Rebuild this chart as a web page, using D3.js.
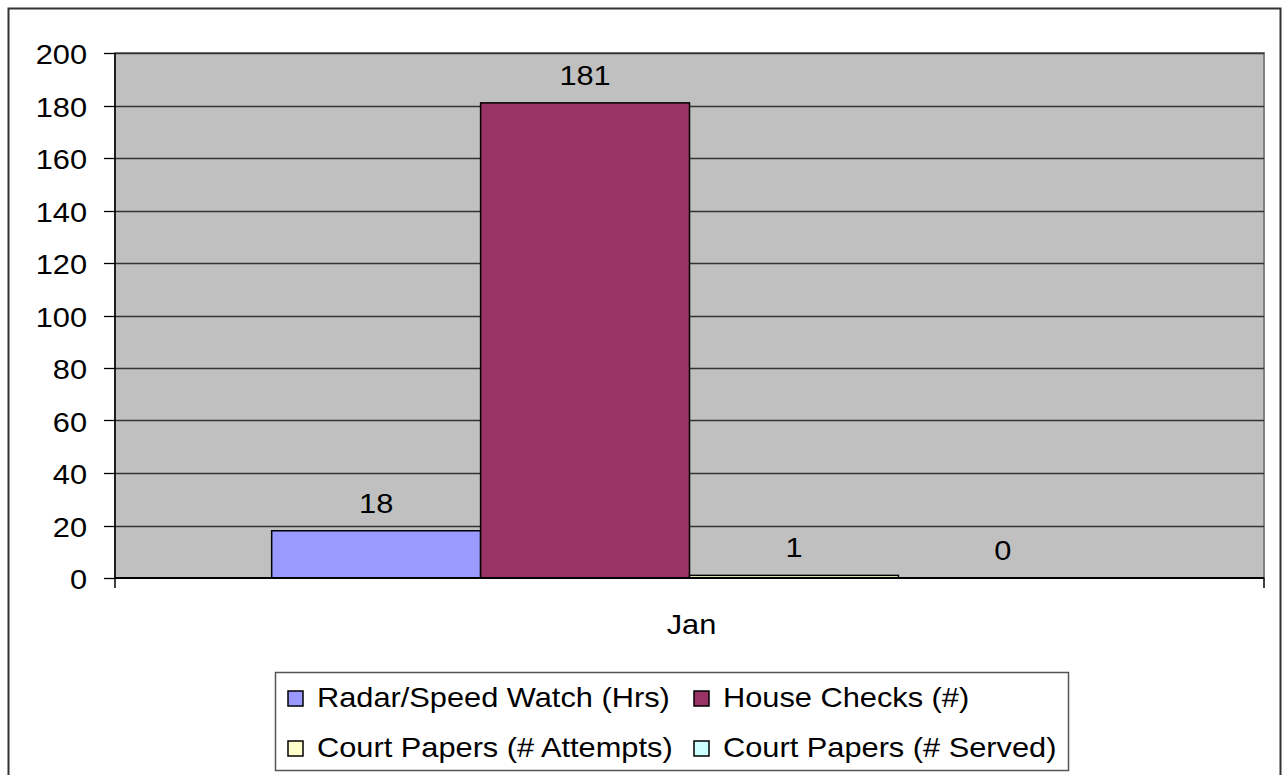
<!DOCTYPE html>
<html>
<head>
<meta charset="utf-8">
<script src="https://cdn.jsdelivr.net/npm/d3@7"></script>
<style>
  body { margin: 0; background: #fff; }
  svg text { font-family: "Liberation Sans", Arial, sans-serif; fill: #000; }
</style>
</head>
<body>
<div id="chart"></div>
<script>
// Chart data
var categories = ['Jan'];
var seriesNames = ['Radar/Speed Watch (Hrs)', 'House Checks (#)', 'Court Papers (# Attempts)', 'Court Papers (# Served)'];
var seriesColors = ['#9999FF', '#993366', '#FFFFCC', '#CCFFFF'];
var seriesValues = [[18], [181], [1], [0]];
var yTicks = [0, 20, 40, 60, 80, 100, 120, 140, 160, 180, 200];

var W = 1283, H = 775;
var plot = { left: 115, top: 53, right: 1264, bottom: 578 };
var fontSize = 27, stretch = 1.14;

var svg = d3.select('#chart').append('svg')
    .attr('width', W).attr('height', H);

// Outer chart border
svg.append('rect')
    .attr('x', 8.5).attr('y', 8.5)
    .attr('width', 1272).attr('height', 780)
    .attr('fill', '#fff').attr('stroke', '#333').attr('stroke-width', 2);

// Helper that draws horizontally stretched text like the original
function label(g, x, y, txt, anchor) {
  return g.append('text')
      .attr('transform', 'translate(' + x + ',' + y + ') scale(' + stretch + ',1)')
      .attr('text-anchor', anchor || 'middle')
      .style('font-size', fontSize + 'px')
      .text(txt);
}

// Scales
var y = d3.scaleLinear().domain([0, 200]).range([plot.bottom, plot.top]);
var x0 = d3.scaleBand().domain(categories).range([plot.left, plot.right]).paddingInner(0).paddingOuter(0);
var x1 = d3.scaleBand().domain(d3.range(seriesNames.length))
    .range([0, x0.bandwidth()]).paddingOuter(0.75).paddingInner(0);

// Plot background
svg.append('rect')
    .attr('x', plot.left).attr('y', plot.top)
    .attr('width', plot.right - plot.left).attr('height', plot.bottom - plot.top)
    .attr('fill', '#C0C0C0').attr('stroke', '#808080').attr('stroke-width', 2);

// Gridlines
svg.append('g').selectAll('line')
  .data(yTicks.filter(function(d) { return d > 0; }))
  .enter().append('line')
    .attr('x1', plot.left).attr('x2', plot.right)
    .attr('y1', function(d) { return Math.round(y(d)) + 0.5; })
    .attr('y2', function(d) { return Math.round(y(d)) + 0.5; })
    .attr('stroke', '#333').attr('stroke-width', 1.3);

// Bars
var bars = svg.append('g');
seriesNames.forEach(function(name, i) {
  categories.forEach(function(c, j) {
    var v = seriesValues[i][j];
    var bx = x0(c) + x1(i);
    if (v > 0) {
      bars.append('rect')
          .attr('x', bx).attr('y', y(v))
          .attr('width', x1.bandwidth()).attr('height', y(0) - y(v))
          .attr('fill', seriesColors[i])
          .attr('stroke', '#000').attr('stroke-width', 1.5);
    }
    label(bars, bx + x1.bandwidth() / 2, y(v) - 18, v);
  });
});

// Y axis
var yAxis = svg.append('g');
yAxis.append('line')
    .attr('x1', plot.left).attr('x2', plot.left)
    .attr('y1', plot.top).attr('y2', plot.bottom + 10)
    .attr('stroke', '#000').attr('stroke-width', 1.5);
yAxis.selectAll('.tick')
  .data(yTicks).enter().append('line')
    .attr('x1', plot.left - 11).attr('x2', plot.left)
    .attr('y1', function(d) { return Math.round(y(d)) + 0.5; })
    .attr('y2', function(d) { return Math.round(y(d)) + 0.5; })
    .attr('stroke', '#000').attr('stroke-width', 1.3);
yTicks.forEach(function(d) {
  label(yAxis, 87, y(d) + 11, d, 'end');
});

// X axis
var xAxis = svg.append('g');
xAxis.append('line')
    .attr('x1', plot.left).attr('x2', plot.right)
    .attr('y1', plot.bottom).attr('y2', plot.bottom)
    .attr('stroke', '#000').attr('stroke-width', 2);
xAxis.append('line')
    .attr('x1', plot.right).attr('x2', plot.right)
    .attr('y1', plot.bottom).attr('y2', plot.bottom + 10)
    .attr('stroke', '#000').attr('stroke-width', 1.5);
categories.forEach(function(c) {
  label(xAxis, x0(c) + x0.bandwidth() / 2 + 2, 634, c);
});

// Legend
var legend = svg.append('g').attr('class', 'legend');
var legX = 275, legY = 672, colX = [288, 694], rowY = [707, 757];
legend.append('rect')
    .attr('x', legX + 0.5).attr('y', legY + 0.5)
    .attr('width', 1068 - legX).attr('height', 98)
    .attr('fill', '#fff').attr('stroke', '#555').attr('stroke-width', 1.5);
seriesNames.forEach(function(name, i) {
  var cx = colX[i % 2], cy = rowY[Math.floor(i / 2)];
  legend.append('rect')
      .attr('x', cx).attr('y', cy - 16)
      .attr('width', 15).attr('height', 15)
      .attr('fill', seriesColors[i])
      .attr('stroke', '#000').attr('stroke-width', 1.5);
  label(legend, cx + 29, cy, name, 'start');
});
</script>
</body>
</html>
